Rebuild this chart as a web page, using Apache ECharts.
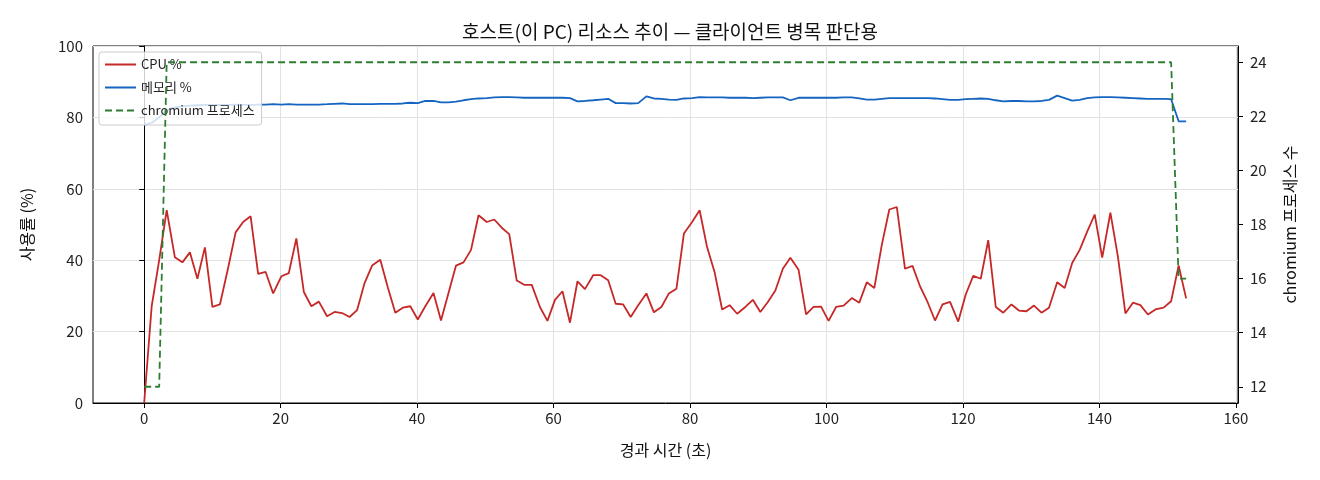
<!DOCTYPE html>
<html>
<head>
<meta charset="utf-8">
<title>호스트 리소스 추이</title>
<script src="https://cdn.jsdelivr.net/npm/echarts@6/dist/echarts.min.js"></script>
<style>
    html, body { margin: 0; padding: 0; background: #fff; }
    #container { width: 1320px; height: 480px; }
</style>
</head>
<body>
<div id="container"></div>
<script>
// 경과 시간 (초)
var timeSec = [
    0.0, 1.1, 2.2, 3.3, 4.5, 5.6, 6.7, 7.8, 8.9, 10.0,
    11.1, 12.3, 13.4, 14.5, 15.6, 16.7, 17.8, 18.9, 20.1, 21.2,
    22.3, 23.4, 24.5, 25.6, 26.8, 27.9, 29.0, 30.1, 31.2, 32.3,
    33.4, 34.6, 35.7, 36.8, 37.9, 39.0, 40.1, 41.2, 42.4, 43.5,
    44.6, 45.7, 46.8, 47.9, 49.0, 50.2, 51.3, 52.4, 53.5, 54.6,
    55.7, 56.8, 58.0, 59.1, 60.2, 61.3, 62.4, 63.5, 64.6, 65.8,
    66.9, 68.0, 69.1, 70.2, 71.3, 72.4, 73.6, 74.7, 75.8, 76.9,
    78.0, 79.1, 80.3, 81.4, 82.5, 83.6, 84.7, 85.8, 86.9, 88.1,
    89.2, 90.3, 91.4, 92.5, 93.6, 94.7, 95.9, 97.0, 98.1, 99.2,
    100.3, 101.4, 102.5, 103.7, 104.8, 105.9, 107.0, 108.1, 109.2, 110.3,
    111.5, 112.6, 113.7, 114.8, 115.9, 117.0, 118.1, 119.3, 120.4, 121.5,
    122.6, 123.7, 124.8, 125.9, 127.1, 128.2, 129.3, 130.4, 131.5, 132.6,
    133.8, 134.9, 136.0, 137.1, 138.2, 139.3, 140.4, 141.6, 142.7, 143.8,
    144.9, 146.0, 147.1, 148.2, 149.4, 150.5, 151.6, 152.7
];

// CPU %
var cpuPct = [
    0, 27.1, 40.0, 54.0, 40.8, 39.4, 42.2, 34.8, 43.6, 26.9,
    27.6, 37.8, 47.8, 50.7, 52.3, 36.2, 36.7, 30.7, 35.5, 36.4,
    46.1, 31.1, 27.1, 28.4, 24.3, 25.5, 25.2, 24.1, 26.0, 33.6,
    38.5, 40.1, 32.4, 25.3, 26.7, 27.1, 23.4, 27.1, 30.8, 23.1,
    30.8, 38.5, 39.4, 42.9, 52.6, 50.7, 51.4, 49.1, 47.3, 34.3,
    33.1, 33.1, 26.9, 23.0, 28.9, 31.3, 22.5, 34.1, 31.9, 35.8,
    35.8, 34.4, 27.8, 27.6, 24.1, 27.4, 30.7, 25.4, 26.9, 30.7,
    32.0, 47.5, 50.7, 54.0, 43.6, 36.6, 26.2, 27.4, 25.0, 26.9,
    28.9, 25.5, 28.3, 31.5, 37.6, 40.7, 37.3, 24.8, 26.9, 27.0,
    23.0, 26.9, 27.3, 29.4, 28.1, 33.8, 32.2, 44.3, 54.2, 54.9,
    37.6, 38.4, 32.7, 28.3, 23.1, 27.6, 28.3, 22.8, 30.4, 35.6,
    34.8, 45.6, 26.9, 25.3, 27.6, 25.9, 25.7, 27.3, 25.3, 26.7,
    33.8, 32.2, 39.2, 42.9, 48.0, 52.8, 40.7, 53.3, 41.0, 25.1,
    28.1, 27.4, 24.8, 26.2, 26.7, 28.5, 38.5, 29.3
];

// 메모리 %
var memPct = [
    77.9, 78.5, 80.0, 82.0, 82.8, 83.1, 83.3, 83.4, 83.5, 83.5,
    83.5, 83.5, 83.6, 83.5, 83.5, 83.6, 83.6, 83.7, 83.6, 83.7,
    83.6, 83.6, 83.6, 83.6, 83.7, 83.8, 83.9, 83.7, 83.7, 83.7,
    83.7, 83.8, 83.8, 83.8, 83.9, 84.1, 84.0, 84.6, 84.6, 84.2,
    84.2, 84.4, 84.8, 85.1, 85.3, 85.4, 85.6, 85.7, 85.7, 85.6,
    85.5, 85.5, 85.5, 85.5, 85.5, 85.5, 85.4, 84.5, 84.6, 84.8,
    85.0, 85.2, 84.0, 84.0, 83.9, 84.0, 85.9, 85.3, 85.2, 85.0,
    84.9, 85.3, 85.4, 85.7, 85.6, 85.6, 85.6, 85.5, 85.5, 85.5,
    85.4, 85.5, 85.6, 85.6, 85.6, 84.8, 85.5, 85.5, 85.5, 85.5,
    85.5, 85.5, 85.6, 85.6, 85.3, 85.0, 85.0, 85.2, 85.4, 85.4,
    85.4, 85.4, 85.4, 85.4, 85.3, 85.1, 84.9, 84.9, 85.1, 85.2,
    85.3, 85.2, 84.8, 84.5, 84.6, 84.6, 84.5, 84.5, 84.6, 84.9,
    86.1, 85.4, 84.7, 84.9, 85.4, 85.6, 85.7, 85.7, 85.6, 85.5,
    85.4, 85.3, 85.2, 85.2, 85.2, 85.1, 78.9, 78.9
];

// chromium 프로세스 수
var chromiumCount = [
    12, 12, 12, 24, 24, 24, 24, 24, 24, 24,
    24, 24, 24, 24, 24, 24, 24, 24, 24, 24,
    24, 24, 24, 24, 24, 24, 24, 24, 24, 24,
    24, 24, 24, 24, 24, 24, 24, 24, 24, 24,
    24, 24, 24, 24, 24, 24, 24, 24, 24, 24,
    24, 24, 24, 24, 24, 24, 24, 24, 24, 24,
    24, 24, 24, 24, 24, 24, 24, 24, 24, 24,
    24, 24, 24, 24, 24, 24, 24, 24, 24, 24,
    24, 24, 24, 24, 24, 24, 24, 24, 24, 24,
    24, 24, 24, 24, 24, 24, 24, 24, 24, 24,
    24, 24, 24, 24, 24, 24, 24, 24, 24, 24,
    24, 24, 24, 24, 24, 24, 24, 24, 24, 24,
    24, 24, 24, 24, 24, 24, 24, 24, 24, 24,
    24, 24, 24, 24, 24, 24, 16, 16
];

var xTicks = [0, 20, 40, 60, 80, 100, 120, 140, 160];
var rightTicks = [12, 14, 16, 18, 20, 22, 24];

var FONT = "'Noto Sans CJK KR', 'Noto Sans', sans-serif";

function pairs(xs, ys) {
    var out = [];
    for (var i = 0; i < ys.length; i++) {
        out.push([xs[i], ys[i]]);
    }
    return out;
}

function resourceChart() {
    var myChart = echarts.init(document.getElementById('container'), null, {renderer: 'canvas'});
    var option = {
        animation: false,
        backgroundColor: '#ffffff',
        textStyle: {fontFamily: FONT},
        title: {
            text: '호스트(이 PC) 리소스 추이 — 클라이언트 병목 판단용',
            left: 665, top: 17, textAlign: 'center',
            textStyle: {fontFamily: FONT, fontSize: 19, fontWeight: 'normal', color: '#111'}
        },
        legend: {
            orient: 'vertical',
            left: 99, top: 52,
            padding: [6, 7, 8, 5],
            itemWidth: 31, itemHeight: 14, itemGap: 10,
            itemStyle: {opacity: 0},
            backgroundColor: 'rgba(255,255,255,0.8)',
            borderColor: '#cccccc', borderWidth: 1, borderRadius: 3,
            textStyle: {fontFamily: FONT, fontSize: 13, color: '#222'},
            data: ['CPU %', '메모리 %', 'chromium 프로세스']
        },
        grid: {
            left: 93, right: 82, top: 46, bottom: 77,
            show: true, borderColor: '#000', borderWidth: 1
        },
        xAxis: {
            type: 'value',
            min: -7.5, max: 160.3,
            name: '경과 시간 (초)', nameLocation: 'middle', nameGap: 39,
            nameTextStyle: {fontFamily: FONT, fontSize: 16, color: '#111'},
            axisLine: {lineStyle: {color: '#000', width: 1}},
            axisTick: {show: true, length: 5, lineStyle: {color: '#000'}, customValues: xTicks},
            axisLabel: {fontFamily: FONT, fontSize: 15, color: '#222', margin: 8, customValues: xTicks},
            splitLine: {show: true, lineStyle: {color: '#e2e2e2', width: 1}}
        },
        yAxis: [
            {
                type: 'value',
                min: 0, max: 100, interval: 20,
                name: '사용률 (%)', nameLocation: 'middle', nameGap: 58,
                nameTextStyle: {fontFamily: FONT, fontSize: 16, color: '#111'},
                axisLine: {show: true, lineStyle: {color: '#000', width: 1}},
                axisTick: {show: true, length: 5, lineStyle: {color: '#000'}},
                axisLabel: {fontFamily: FONT, fontSize: 15, color: '#222', margin: 10},
                splitLine: {show: true, lineStyle: {color: '#e2e2e2', width: 1}}
            },
            {
                type: 'value',
                position: 'right',
                min: 11.4, max: 24.6,
                name: 'chromium 프로세스 수', nameLocation: 'middle', nameGap: 44, nameRotate: 90,
                nameTextStyle: {fontFamily: FONT, fontSize: 16, color: '#111'},
                axisLine: {show: true, lineStyle: {color: '#000', width: 1}},
                axisTick: {show: true, length: 5, lineStyle: {color: '#000'}, customValues: rightTicks},
                axisLabel: {fontFamily: FONT, fontSize: 15, color: '#222', margin: 12, customValues: rightTicks},
                splitLine: {show: false}
            }
        ],
        series: [
            {
                name: 'CPU %',
                type: 'line',
                yAxisIndex: 0,
                symbol: 'none',
                z: 3,
                color: '#c62828',
                lineStyle: {color: '#c62828', width: 1.8},
                data: pairs(timeSec, cpuPct)
            },
            {
                name: '메모리 %',
                type: 'line',
                yAxisIndex: 0,
                symbol: 'none',
                z: 3,
                color: '#1565c0',
                lineStyle: {color: '#1565c0', width: 1.8},
                data: pairs(timeSec, memPct)
            },
            {
                name: 'chromium 프로세스',
                type: 'line',
                yAxisIndex: 1,
                symbol: 'none',
                z: 10,
                color: '#2e7d32',
                lineStyle: {color: '#2e7d32', width: 1.8, type: [7, 4]},
                data: pairs(timeSec, chromiumCount)
            }
        ]
    };
    myChart.setOption(option);
}

resourceChart();
</script>
</body>
</html>
